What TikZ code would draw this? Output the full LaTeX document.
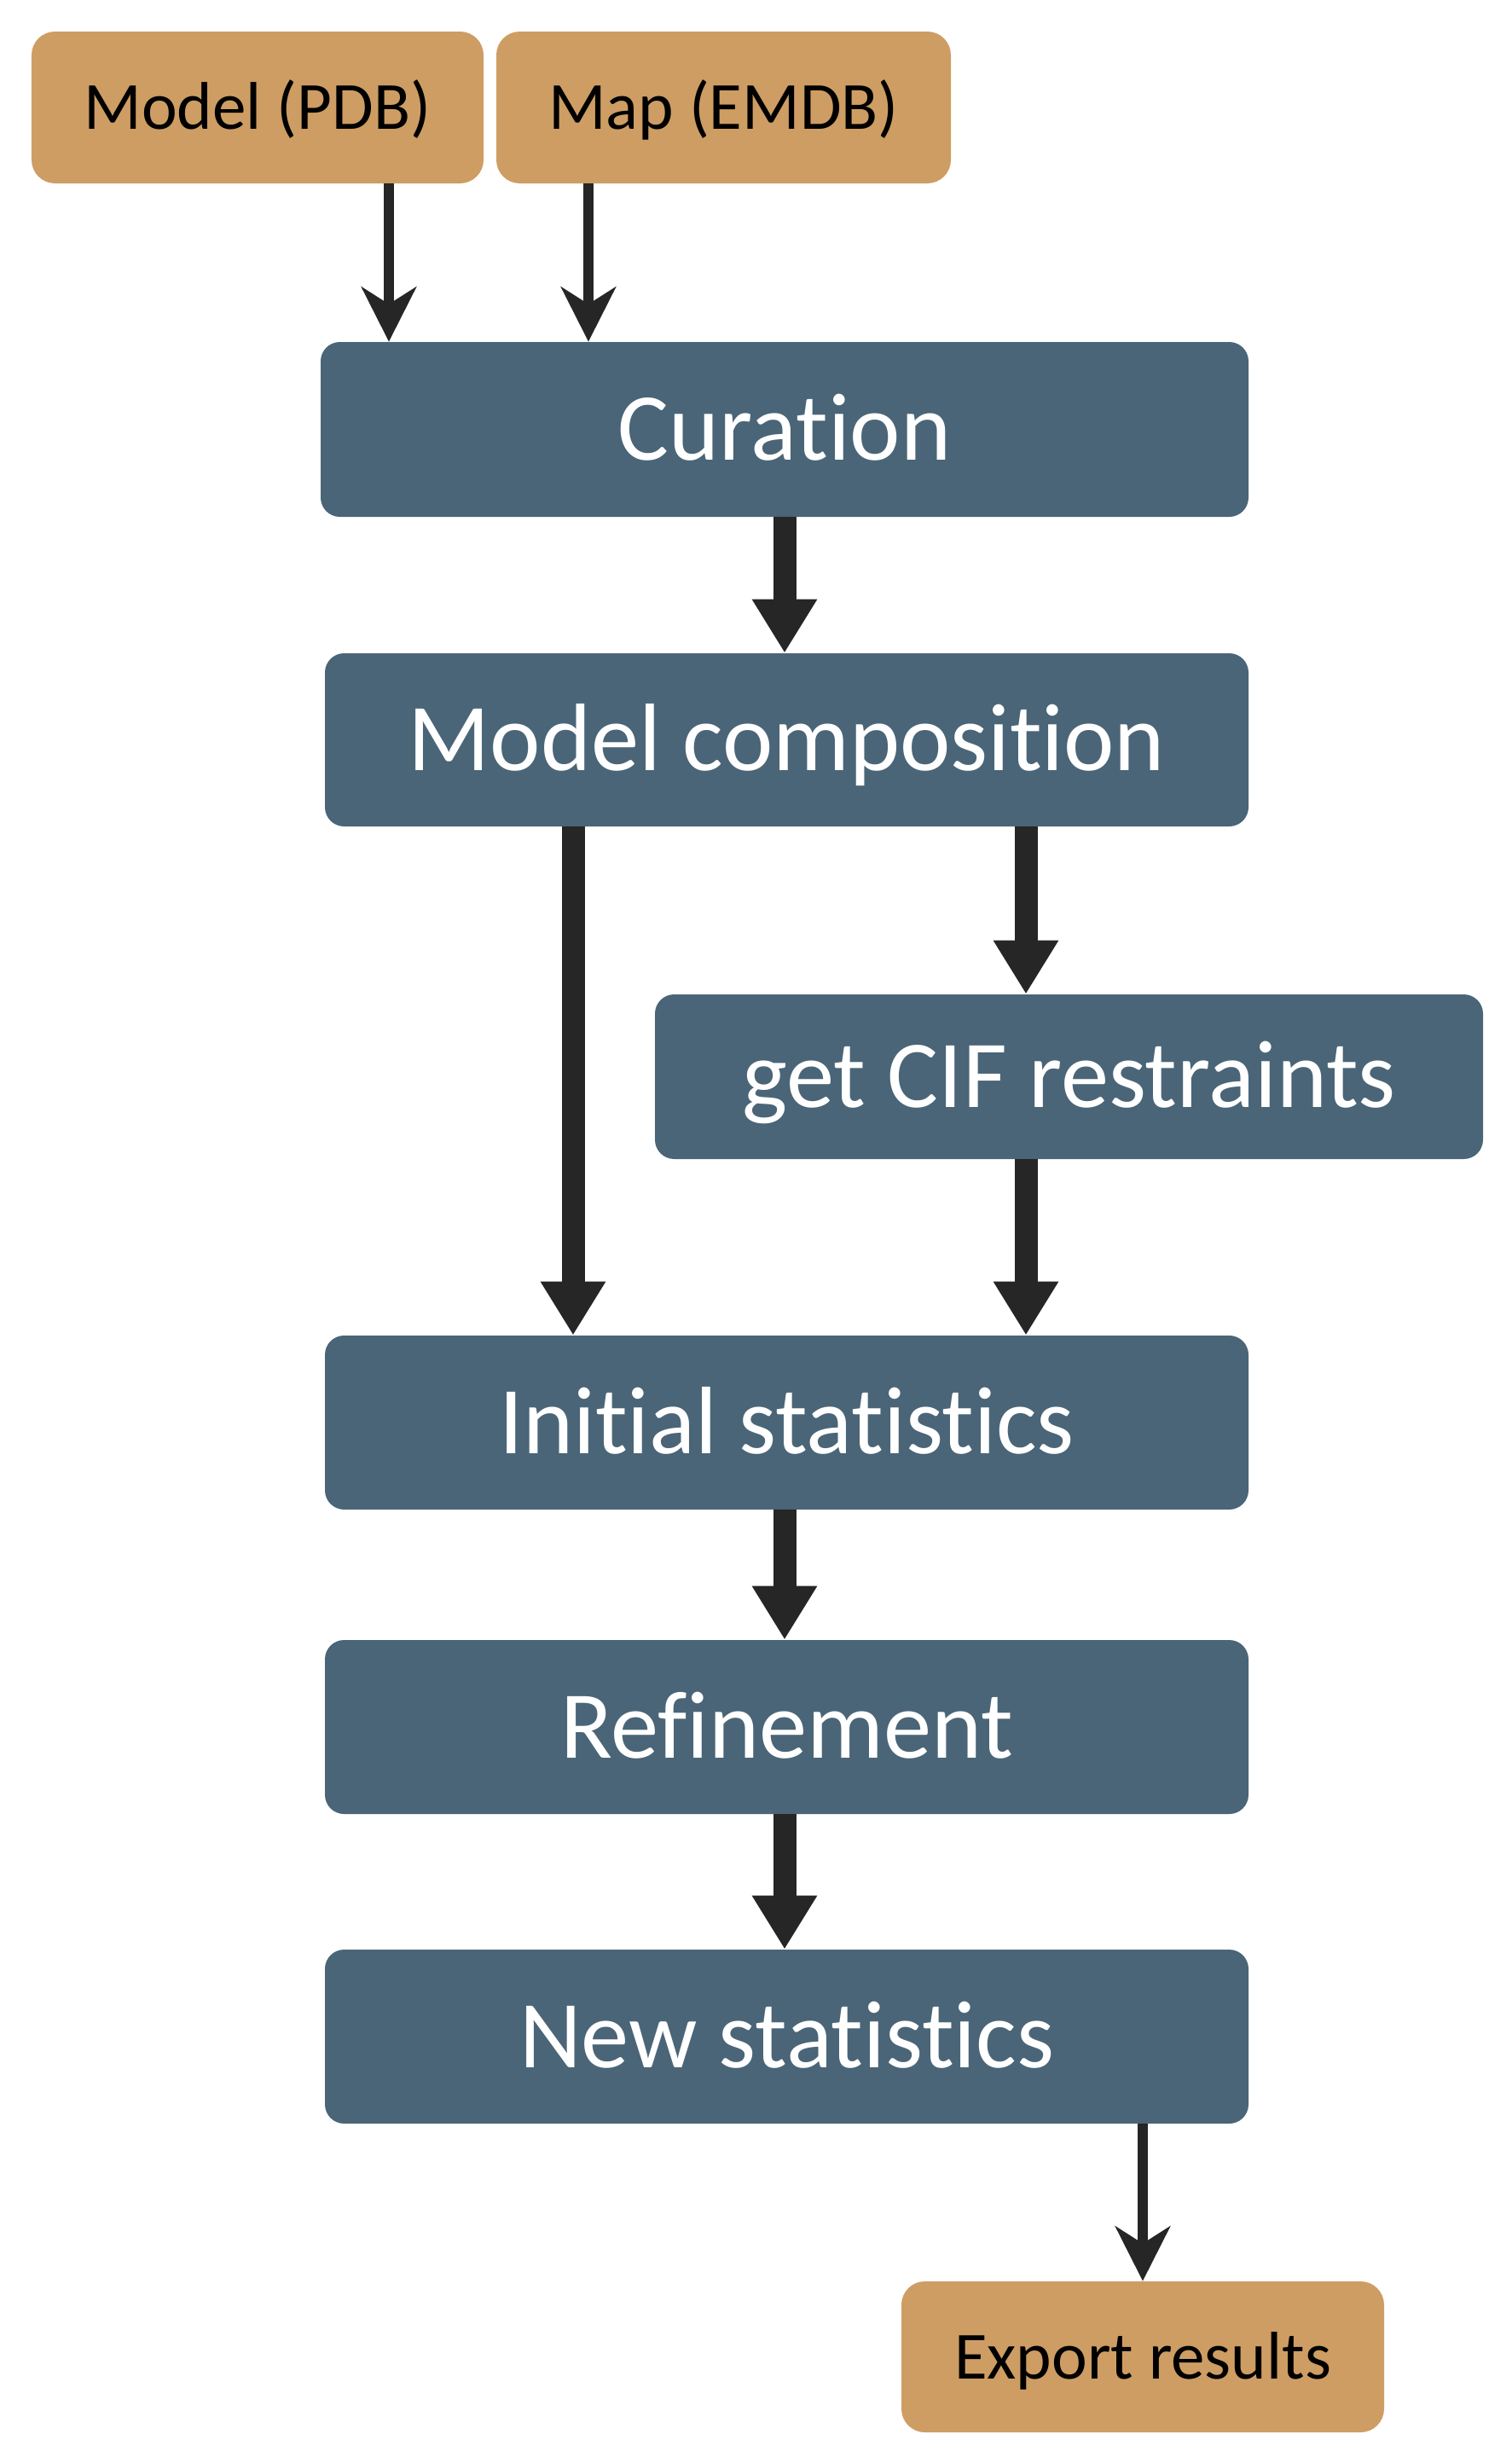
\documentclass[tikz,border=0pt]{standalone}
\usepackage{fontspec}
\setmainfont[Ligatures={NoCommon}]{Carlito}
\usepackage{tikz}
\usetikzlibrary{arrows.meta}
\definecolor{sand}{RGB}{206,157,99}
\definecolor{slate}{RGB}{74,101,119}
\definecolor{ink}{RGB}{38,38,38}

\begin{document}
\begin{tikzpicture}[
  io/.style={rounded corners=0.55cm,fill=sand,text=black,inner sep=0pt,
    font=\fontsize{45}{54}\selectfont,text height=29pt,text depth=0pt},
  stage/.style={rounded corners=0.45cm,fill=slate,text=white,inner sep=0pt,
    minimum width=21.66cm,minimum height=4.08cm,
    font=\fontsize{64}{76}\selectfont,text height=41pt,text depth=0pt},
  thinarr/.style={draw=ink,line width=0.24cm,
    -{Stealth[length=1.28cm,width=1.28cm,inset=0.4cm,fill=ink]}},
  thickarr/.style={draw=ink,line width=0.54cm,
    -{Triangle[length=1.26cm,width=1.44cm,fill=ink]}}
]
\useasboundingbox (0,0) rectangle (35.44,-57.76);
\node[io,minimum width=10.6cm,minimum height=3.56cm] (pdb) at (6.04,-2.52) {Model (PDB)};
\node[io,minimum width=10.66cm,minimum height=3.56cm] (emdb) at (16.97,-2.52) {Map (EMDB)};
\node[stage,minimum width=21.76cm,minimum height=4.1cm] (cur) at (18.4,-10.07) {Curation};
\node[stage,minimum height=4.06cm] (comp) at (18.45,-17.35) {Model composition};
\node[stage,minimum width=19.42cm,minimum height=3.86cm] (cif) at (25.07,-25.25) {get CIF restraints};
\node[stage] (init) at (18.45,-33.36) {Initial statistics};
\node[stage] (ref) at (18.45,-40.5) {Refinement};
\node[stage] (new) at (18.45,-47.76) {New statistics};
\node[io,minimum width=11.32cm,minimum height=3.54cm] (exp) at (26.8,-55.27) {Export results};
% inputs
\draw[thinarr] ([xshift=3.08cm]pdb.south) coordinate (pa) -- (pa |- cur.north);
\draw[thinarr] ([xshift=-3.17cm]emdb.south) coordinate (ea) -- (ea |- cur.north);
% pipeline
\draw[thickarr] (cur.south) -- (cur.south |- comp.north);
\draw[thickarr] ([xshift=-5.01cm]comp.south) coordinate (ca) -- (ca |- init.north);
\draw[thickarr] ([xshift=5.61cm]comp.south) coordinate (cb) -- (cb |- cif.north);
\draw[thickarr] ([xshift=-1.01cm]cif.south) coordinate (cc) -- (cc |- init.north);
\draw[thickarr] ([xshift=-0.05cm]init.south) coordinate (ia) -- (ia |- ref.north);
\draw[thickarr] ([xshift=-0.05cm]ref.south) coordinate (ra) -- (ra |- new.north);
% output
\draw[thinarr] (exp.north |- new.south) -- (exp.north);
\end{tikzpicture}
\end{document}
